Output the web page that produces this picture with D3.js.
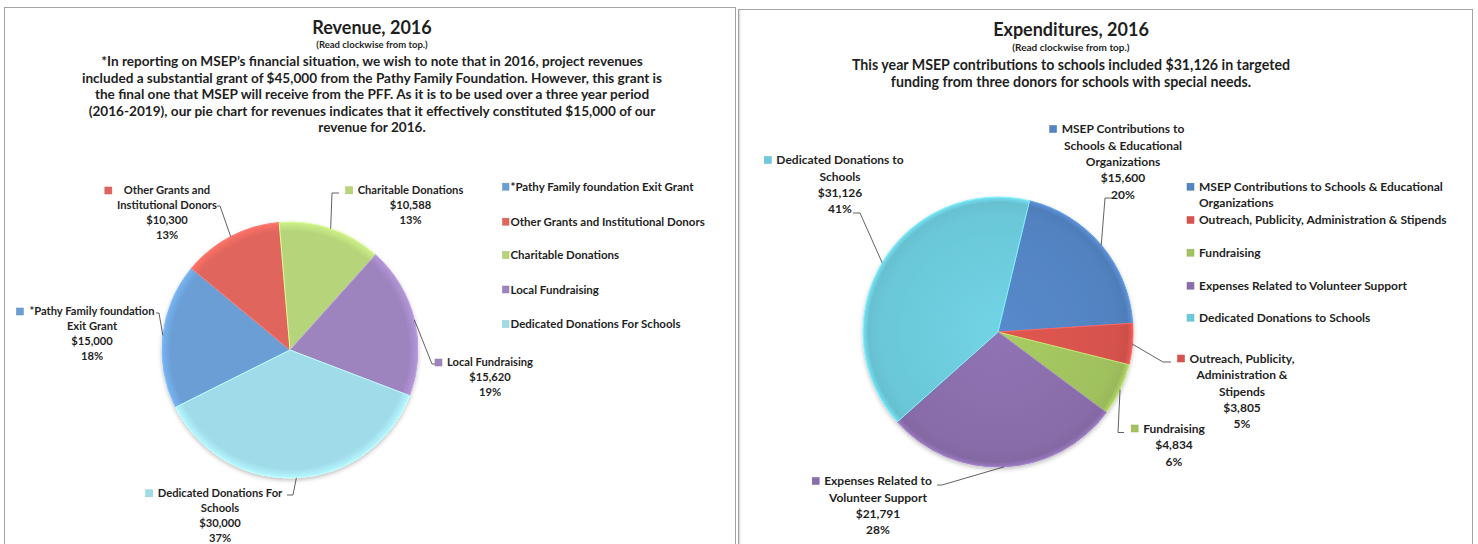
<!DOCTYPE html>
<html><head><meta charset="utf-8">
<script src="https://cdn.jsdelivr.net/npm/d3@7"></script>
<style>
body{margin:0;background:#fff}
svg{display:block;font-family:Lato,"Open Sans",sans-serif;font-weight:700}
text{fill:#1f1f1f}
</style></head>
<body><svg id="c" width="1478" height="544"></svg>
<script>
// ---------- DATA ----------
const revCategories = ["*Pathy Family foundation Exit Grant","Other Grants and Institutional Donors","Charitable Donations","Local Fundraising","Dedicated Donations For Schools"];
const revValues = [15000, 10300, 10588, 15620, 30000];
const revPercents = ["18%","13%","13%","19%","37%"];
const revNameLines = [["*Pathy Family foundation","Exit Grant"],["Other Grants and","Institutional Donors"],["Charitable Donations"],["Local Fundraising"],["Dedicated Donations For","Schools"]];
const revColors = ["#6a9ed5","#e0655d","#b6d57a","#9e84bf","#a0dbe9"];
const revTitle = "Revenue, 2016";
const revSub = "(Read clockwise from top.)";
const revNote = ["*In reporting on MSEP\u2019s financial situation, we wish to note that in 2016, project revenues",
  "included a substantial grant of $45,000 from the Pathy Family Foundation. However, this grant is",
  "the final one that MSEP will receive from the PFF. As it is to be used over a three year period",
  "(2016-2019), our pie chart for revenues indicates that it effectively constituted $15,000 of our",
  "revenue for 2016."];

const expCategories = ["MSEP Contributions to Schools & Educational Organizations","Outreach, Publicity, Administration & Stipends","Fundraising","Expenses Related to Volunteer Support","Dedicated Donations to Schools"];
const expValues = [15600, 3805, 4834, 21791, 31126];
const expPercents = ["20%","5%","6%","28%","41%"];
const expNameLines = [["MSEP Contributions to","Schools & Educational","Organizations"],["Outreach, Publicity,","Administration &","Stipends"],["Fundraising"],["Expenses Related to","Volunteer Support"],["Dedicated Donations to","Schools"]];
const expLegendLines = [["MSEP Contributions to Schools & Educational","Organizations"],["Outreach, Publicity, Administration & Stipends"],["Fundraising"],["Expenses Related to Volunteer Support"],["Dedicated Donations to Schools"]];
const expColors = ["#5384c3","#d9534e","#a2c35f","#8a6eac","#6ccbdb"];
const expTitle = "Expenditures, 2016";
const expSub = "(Read clockwise from top.)";
const expNote = ["This year MSEP contributions to schools included $31,126 in targeted",
  "funding from three donors for schools with special needs."];

// ---------- LAYOUT ----------
const revLayout = {
  cx:290, cy:350, r:128, startDeg:-116.6, titleX:372, titleY:34, subY:48, subSize:9.5, noteY:66, noteLH:16.5, noteSize:13.6,
  labelSize:11.2, labelLH:15,
  labels:[
    {cx:92, y:311.5, elbow:[159,313], end:[156,313], gap:6},
    {cx:167, y:190.5, elbow:[220,206], end:[217,206], gap:12},
    {cx:410.5, y:190.3, elbow:[332,193], end:[339,193], gap:5},
    {cx:490, y:362.5, elbow:[432,364], end:[440,364], gap:5},
    {cx:220, y:493.3, elbow:[293,495], end:[287,495], gap:5}
  ],
  legend:{keyX:502.5, keyW:6.5, textX:510.5, ys:[186.7,221.7,255,289.5,324], size:11.5, lh:16},
  bevel:"light"
};
const expLayout = {
  cx:998, cy:332, r:135, startDeg:13.5, titleX:1071, titleY:36, subY:51, subSize:10, noteY:70, noteLH:17, noteSize:14.2,
  labelSize:12, labelLH:16.4,
  labels:[
    {cx:1123, y:129, elbow:[1105,198], end:[1112,198], gap:5},
    {cx:1242, y:358.5, elbow:[1163,362], end:[1171,362], gap:5},
    {cx:1174, y:428.5, elbow:[1118,432.5], end:[1124,432.5], gap:5},
    {cx:878, y:481, elbow:[942,485], end:[937,485], gap:5},
    {cx:840, y:160, elbow:[860,213], end:[853,213], gap:5}
  ],
  legend:{keyX:1187, keyW:7, textX:1199, ys:[186.7,220,252.7,285.7,317.7], size:12, lh:16.3},
  bevel:"dark"
};

const svg = d3.select("#c");
const defs = svg.append("defs");
const sh = defs.append("filter").attr("id","shadow").attr("x","-20%").attr("y","-20%").attr("width","140%").attr("height","140%");
sh.append("feDropShadow").attr("dx",0).attr("dy",2).attr("stdDeviation",2).attr("flood-color","#000").attr("flood-opacity",0.25);

// panels
svg.append("rect").attr("x",4.5).attr("y",7.5).attr("width",731).attr("height",560).attr("fill","none").attr("stroke","#a3a3a3");
svg.append("rect").attr("x",738.5).attr("y",9.5).attr("width",734).attr("height",560).attr("fill","none").attr("stroke","#a3a3a3");
svg.append("line").attr("x1",739.8).attr("x2",739.8).attr("y1",10).attr("y2",544).attr("stroke","#d0d0d0");

function drawChart(id, L, categories, values, colors, percents, nameLines, legendLines, title, sub, note) {
  const g = svg.append("g");
  // titles
  g.append("text").attr("x",L.titleX).attr("y",L.titleY).attr("text-anchor","middle").style("font-size","18px").text(title);
  g.append("text").attr("x",L.titleX).attr("y",L.subY).attr("text-anchor","middle").style("font-size",L.subSize+"px").text(sub);
  note.forEach((t,i)=>g.append("text").attr("x",L.titleX).attr("y",L.noteY+i*L.noteLH).attr("text-anchor","middle").style("font-size",L.noteSize+"px").text(t));

  // gradients
  colors.forEach((c,i)=>{
    const gr = defs.append("radialGradient").attr("id",id+"g"+i).attr("gradientUnits","userSpaceOnUse")
      .attr("cx",0).attr("cy",0).attr("r",L.r);
    const base = d3.color(c);
    if (L.bevel==="dark") {
      gr.append("stop").attr("offset","0%").attr("stop-color",base.brighter(0.12));
      gr.append("stop").attr("offset","88%").attr("stop-color",base.darker(0.05));
      gr.append("stop").attr("offset","96%").attr("stop-color",base.darker(0.15));
      gr.append("stop").attr("offset","100%").attr("stop-color",base.brighter(0.3));
    } else {
      gr.append("stop").attr("offset","0%").attr("stop-color",base);
      gr.append("stop").attr("offset","93%").attr("stop-color",base);
      gr.append("stop").attr("offset","100%").attr("stop-color",base.brighter(0.35));
    }
  });

  const pie = d3.pie().sort(null).value(d=>d)
    .startAngle(L.startDeg*Math.PI/180).endAngle(L.startDeg*Math.PI/180+2*Math.PI);
  const arcs = pie(values);
  const arc = d3.arc().innerRadius(0).outerRadius(L.r);
  const pg = g.append("g").attr("transform",`translate(${L.cx},${L.cy})`).attr("filter","url(#shadow)");
  pg.selectAll("path").data(arcs).join("path")
    .attr("d",arc)
    .attr("fill",(d,i)=>`url(#${id}g${i})`)
    .attr("stroke",(d,i)=>d3.color(colors[i]).brighter(0.5))
    .attr("stroke-width",1);

  // leader lines
  arcs.forEach((a,i)=>{
    const m = (a.startAngle+a.endAngle)/2;
    const px = L.cx + L.r*Math.sin(m), py = L.cy - L.r*Math.cos(m);
    const lp = L.labels[i];
    g.append("polyline")
      .attr("points",[[px,py],lp.elbow,lp.end].map(p=>p.join(",")).join(" "))
      .attr("fill","none").attr("stroke","#3a3a3a").attr("stroke-width",0.8);
  });

  // data labels
  const fmt = d3.format("$,");
  arcs.forEach((a,i)=>{
    const lp = L.labels[i];
    const lines = nameLines[i].concat([fmt(values[i]), percents[i]]);
    lines.forEach((t,j)=>{
      const tx = g.append("text").attr("x",lp.cx).attr("y",lp.y+j*L.labelLH).attr("dy","0.35em")
        .attr("text-anchor","middle").style("font-size",L.labelSize+"px").text(t);
      if (j===0) {
        const w = tx.node().getComputedTextLength();
        g.append("rect").attr("x",lp.cx-w/2-lp.gap-7).attr("y",lp.y-3.5).attr("width",7).attr("height",7)
          .attr("fill",colors[i]).attr("stroke",d3.color(colors[i]).darker(0.3)).attr("stroke-width",0.5);
      }
    });
  });

  // legend
  const lg = L.legend;
  categories.forEach((c,i)=>{
    const y = lg.ys[i];
    g.append("rect").attr("x",lg.keyX).attr("y",y-3.5).attr("width",lg.keyW).attr("height",7)
      .attr("fill",colors[i]).attr("stroke",d3.color(colors[i]).darker(0.3)).attr("stroke-width",0.5);
    const lines = legendLines ? legendLines[i] : [c];
    lines.forEach((t,j)=>g.append("text").attr("x",lg.textX).attr("y",y+j*lg.lh).attr("dy","0.35em")
      .style("font-size",lg.size+"px").text(t));
  });
}

drawChart("rev", revLayout, revCategories, revValues, revColors, revPercents, revNameLines, null, revTitle, revSub, revNote);
drawChart("exp", expLayout, expCategories, expValues, expColors, expPercents, expNameLines, expLegendLines, expTitle, expSub, expNote);
</script></body></html>
